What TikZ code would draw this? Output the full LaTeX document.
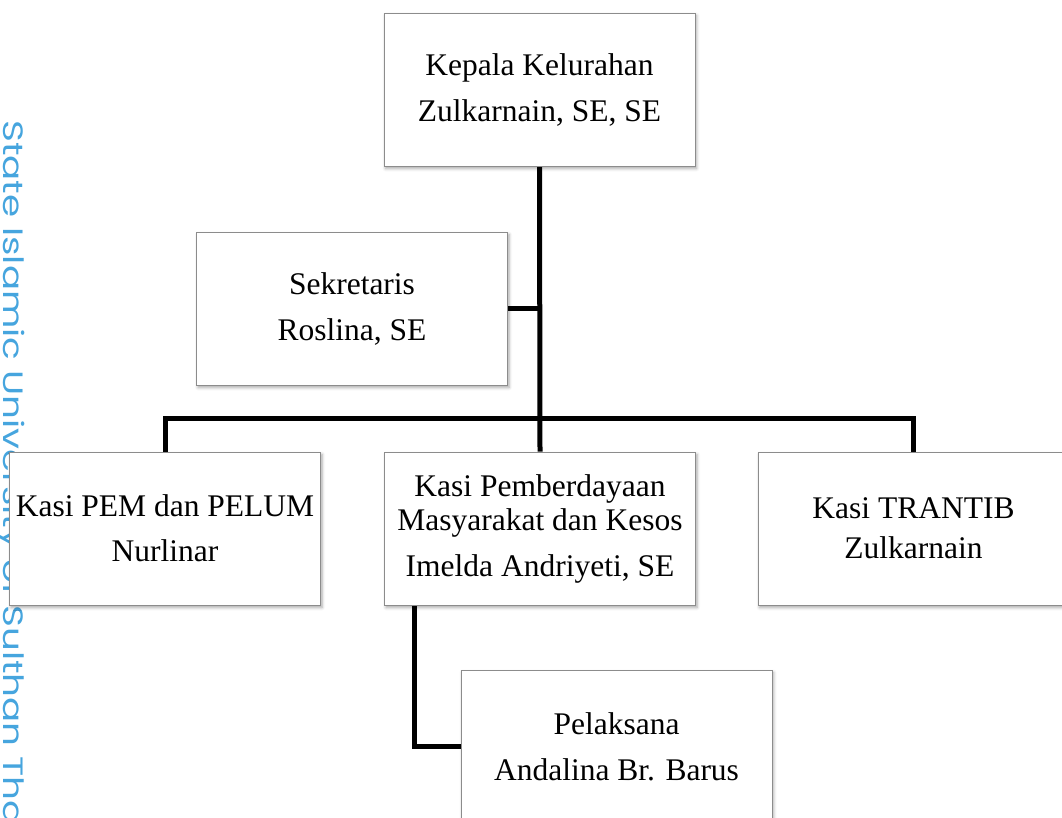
\documentclass[tikz,border=0pt]{standalone}
\usepackage{fontspec}
\setmainfont{Liberation Serif}
\newfontfamily\wmfont{Poppins}
\usetikzlibrary{shadows.blur,backgrounds}
\definecolor{wmblue}{RGB}{70,165,222}
\begin{document}
\begin{tikzpicture}[x=1pt,y=-1pt,
  box/.style={draw=black!45, line width=0.8pt, fill=white,
    minimum width=311pt, minimum height=153pt, align=center, inner sep=0pt,
    font=\fontsize{31.5}{34}\selectfont,
    blur shadow={shadow xshift=1.5pt, shadow yshift=-2.5pt, shadow blur radius=3pt, shadow opacity=35}},
  conn/.style={line width=5pt, black, line join=miter},
  wm/.style={text=wmblue, font=\wmfont\fontsize{28}{30}\selectfont, inner sep=0pt}]
\useasboundingbox (0,0) rectangle (1062,818);

\node[box] (top) at (539.5,89.5) {Kepala Kelurahan\\[12pt]Zulkarnain, SE, SE};
\node[box] (sek) at (352,308.5) {Sekretaris\\[12pt]Roslina, SE};
\node[box] (pem) at (165,528.5) {Kasi PEM dan PELUM\\[11pt]Nurlinar};
\node[box] (pemb) at (540,528.5) {Kasi Pemberdayaan\\Masyarakat dan Kesos\\[12pt]Imelda Andriyeti, SE};
\node[box] (tra) at (913.5,528.5) {Kasi TRANTIB\\[6pt]Zulkarnain};
\node[box] (pel) at (616.5,746.5) {Pelaksana\\[12pt]Andalina Br. Barus};

\begin{scope}[on background layer]
  \node[wm, rotate=-90, anchor=base west] (wmtext) at (4,120) {\scalebox{1.33}[1]{State Islamic University of Sulthan Tha}};
  \coordinate (bus) at (539.5,418);
  \coordinate (pembleg) at ([xshift=30pt]pemb.south west);
  \draw[conn] (top.south) -- (pemb.north);
  \draw[conn] (pem.north) |- (bus) -| (tra.north);
  \draw[conn] (sek.east) -- (sek.east -| top.south);
  \draw[conn] (pembleg) |- (pel.west);
\end{scope}
\end{tikzpicture}
\end{document}
